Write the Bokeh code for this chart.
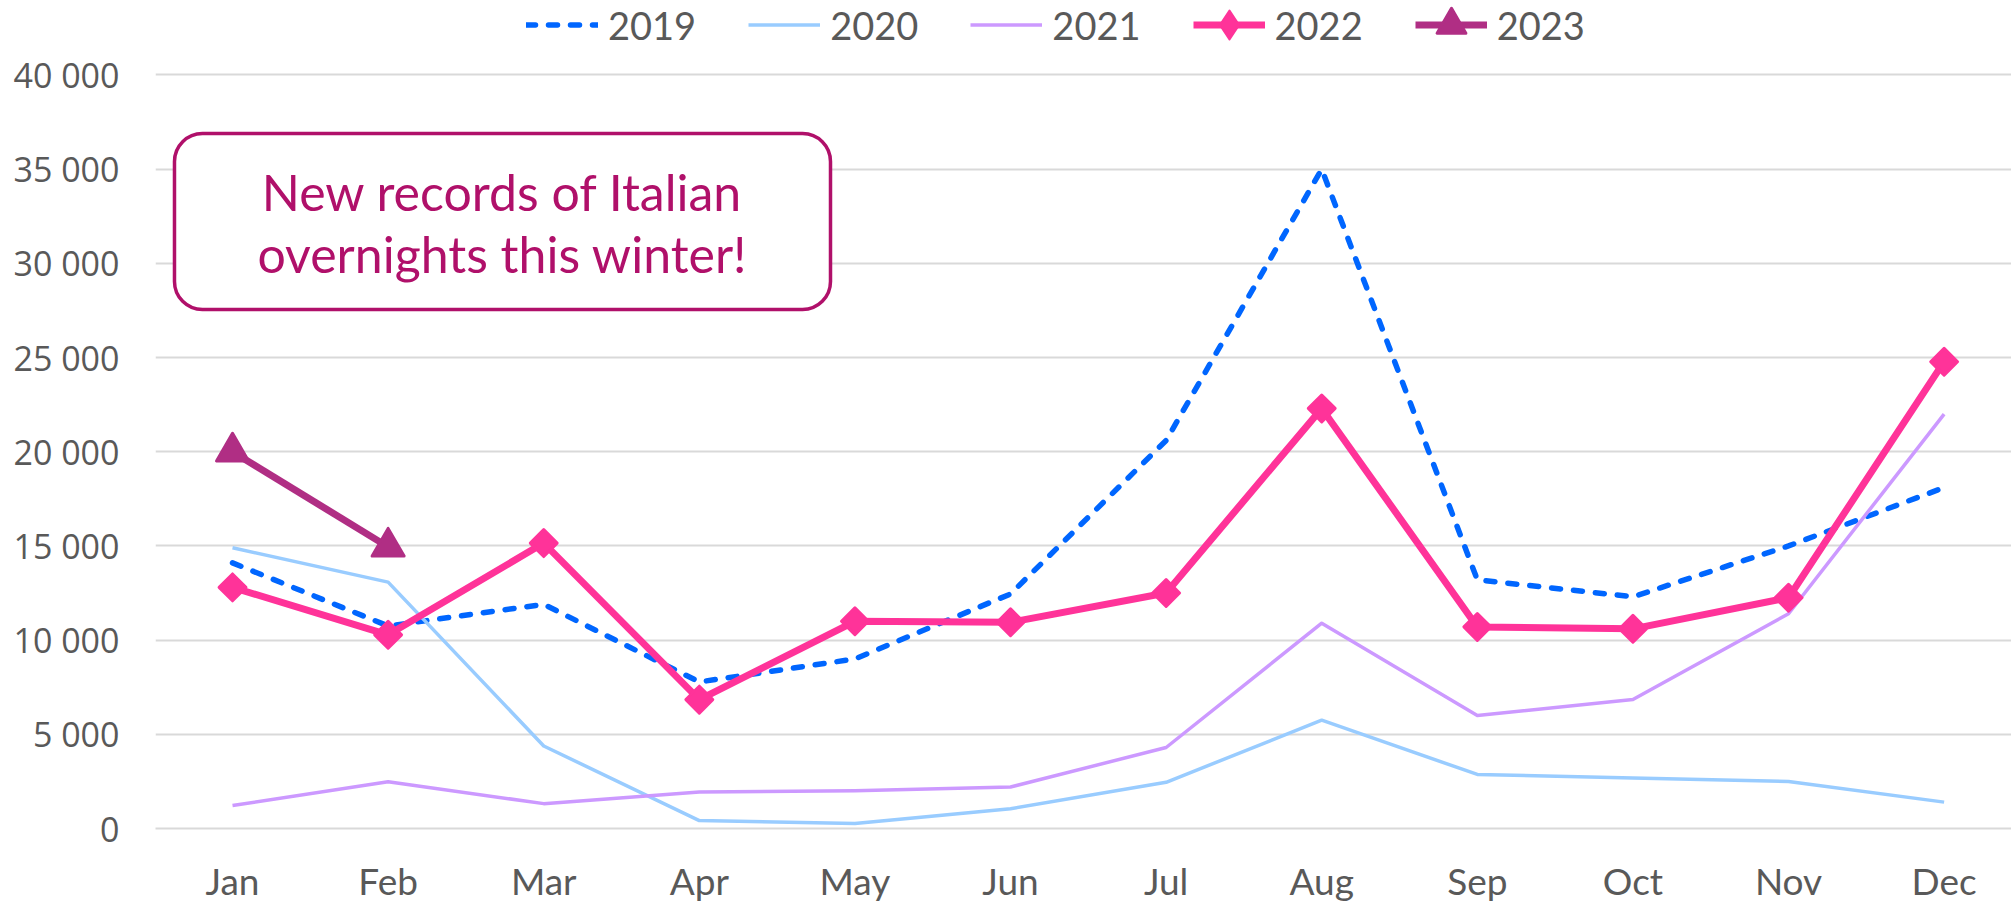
import numpy as np
from bokeh.plotting import figure
from bokeh.models import Legend, LegendItem, FixedTicker, BoxAnnotation, Label, Range1d
from bokeh.embed import file_html
from bokeh.resources import INLINE

months = ["Jan", "Feb", "Mar", "Apr", "May", "Jun", "Jul", "Aug", "Sep", "Oct", "Nov", "Dec"]
y2019 = [14100, 10750, 11900, 7780, 9000, 12450, 20600, 35000, 13200, 12300, 15000, 18100]
y2020 = [14900, 13080, 4380, 420, 270, 1050, 2450, 5750, 2870, 2680, 2500, 1400]
y2021 = [1220, 2480, 1320, 1940, 2000, 2200, 4300, 10900, 6000, 6850, 11400, 22000]
y2022 = [12800, 10280, 15150, 6840, 11000, 10950, 12500, 22300, 10700, 10600, 12250, 24780]
y2023 = [20000, 14950]
y_ticks = [0, 5000, 10000, 15000, 20000, 25000, 30000, 35000, 40000]
note_lines = ["New records of Italian", "overnights this winter!"]

x_all = list(range(len(months)))

p = figure(width=2011, height=907, output_backend="svg", toolbar_location=None,
           x_range=Range1d(-0.495, 11.433), y_range=Range1d(0, 43954),
           min_border_left=155, min_border_right=0, min_border_top=0, min_border_bottom=79)
p.outline_line_color = None
p.background_fill_color = "white"
p.border_fill_color = "white"

# axes
p.xaxis.ticker = FixedTicker(ticks=x_all)
p.xaxis.major_label_overrides = {i: m for i, m in enumerate(months)}
p.xaxis.major_tick_line_color = None
p.xaxis.major_tick_out = 0
p.xaxis.major_tick_in = 0
p.xaxis.minor_tick_line_color = None
p.xaxis.axis_line_color = "#D9D9D9"
p.xaxis.axis_line_width = 2
p.xaxis.major_label_text_font = "Lato"
p.xaxis.major_label_text_font_size = "37px"
p.xaxis.major_label_text_color = "#595959"
p.xaxis.major_label_standoff = 29

p.yaxis.ticker = FixedTicker(ticks=y_ticks)
p.yaxis.major_label_overrides = {v: f"{v:,}".replace(",", " ") for v in y_ticks}
p.yaxis.major_tick_line_color = None
p.yaxis.major_tick_out = 0
p.yaxis.major_tick_in = 0
p.yaxis.minor_tick_line_color = None
p.yaxis.axis_line_color = None
p.yaxis.major_label_text_font = "Open Sans"
p.yaxis.major_label_text_font_size = "34px"
p.yaxis.major_label_text_color = "#595959"
p.yaxis.major_label_standoff = 36

p.xgrid.grid_line_color = None
p.ygrid.ticker = FixedTicker(ticks=y_ticks)
p.ygrid.grid_line_color = "#D9D9D9"
p.ygrid.grid_line_width = 2

# series
r19 = p.line(x_all, y2019, line_color="#0066FF", line_width=5.5, line_dash="9 13",
             line_cap="round", line_join="round")
r20 = p.line(x_all, y2020, line_color="#99CCFF", line_width=3.5, line_join="round")
r21 = p.line(x_all, y2021, line_color="#CC99FF", line_width=3.5, line_join="round")
r22 = p.line(x_all, y2022, line_color="#FF3399", line_width=7, line_join="round")
# diamond glyph (hidden beneath the rotated squares) used for the legend swatch
r22d = p.scatter(x_all, y2022, marker="diamond", size=26,
                 fill_color="#FF3399", line_color="#FF3399", line_width=2, line_join="round")
r22m = p.scatter(x_all, y2022, marker="square", angle=np.pi / 4, size=19,
                 fill_color="#FF3399", line_color="#FF3399", line_width=3, line_join="round")
x23 = x_all[:len(y2023)]
r23 = p.line(x23, y2023, line_color="#B02E84", line_width=7, line_join="round")
r23m = p.scatter(x23, y2023, marker="triangle", size=32,
                 fill_color="#B02E84", line_color="#B02E84", line_width=3, line_join="round")

# annotation box
box = BoxAnnotation(left=-0.373, right=3.843, top=36894, bottom=27551,
                    fill_color="white", fill_alpha=1.0,
                    line_color="#B0106A", line_alpha=1.0, line_width=3.5,
                    border_radius=28, level="annotation")
p.add_layout(box)
for txt, yy in zip(note_lines, [33762, 30523]):
    p.add_layout(Label(x=1.735, y=yy, text=txt, text_align="center", text_baseline="middle",
                       text_font="Lato", text_font_size="50px", text_color="#B0106A"))

legend = Legend(items=[
    LegendItem(label="2019", renderers=[r19]),
    LegendItem(label="2020", renderers=[r20]),
    LegendItem(label="2021", renderers=[r21]),
    LegendItem(label="2022", renderers=[r22, r22d]),
    LegendItem(label="2023", renderers=[r23, r23m]),
], orientation="horizontal", location=(371, 766))
legend.background_fill_alpha = 0
legend.border_line_color = None
legend.padding = 0
legend.margin = 0
legend.spacing = 52
legend.label_standoff = 10
legend.glyph_width = 72
legend.glyph_height = 75
legend.label_text_font = "Lato"
legend.label_text_font_size = "38px"
legend.label_text_color = "#595959"
p.add_layout(legend)

open("out.html", "w").write(file_html(p, INLINE))
